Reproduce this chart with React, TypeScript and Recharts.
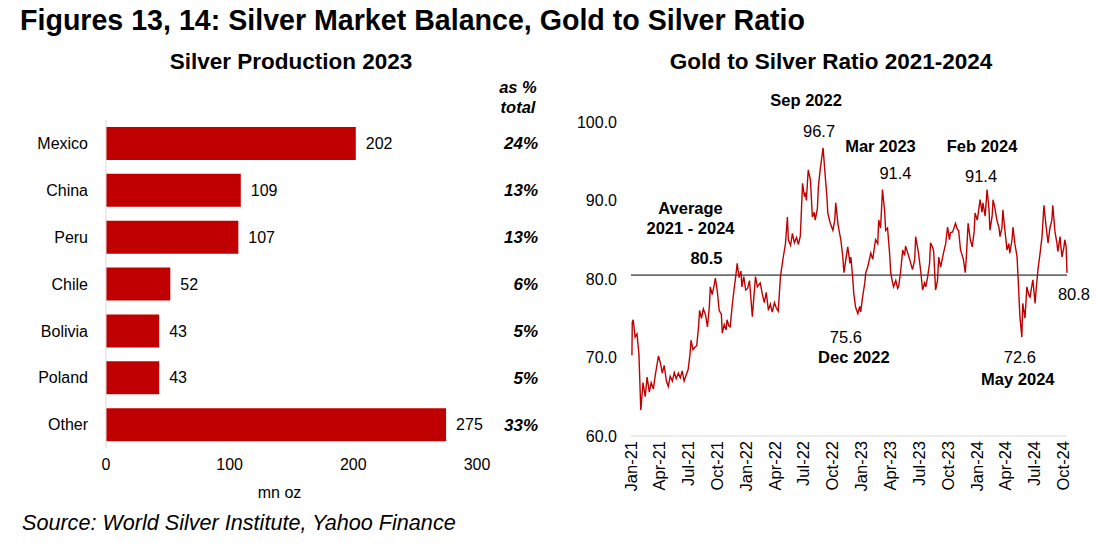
import {
  BarChart,
  Bar,
  XAxis,
  YAxis,
  LabelList,
  LineChart,
  Line,
  ReferenceLine,
  ReferenceDot,
} from 'recharts'

const FONT = '"Liberation Sans", Arial, Helvetica, sans-serif'
const RED = '#c00000'

// Figure 13: silver production 2023 (mn oz)
const countries = ['Mexico', 'China', 'Peru', 'Chile', 'Bolivia', 'Poland', 'Other']
const production = [202, 109, 107, 52, 43, 43, 275]
const shareOfTotal = ['24%', '13%', '13%', '6%', '5%', '5%', '33%']
const productionTicks = [0, 100, 200, 300]

// Figure 14: gold to silver ratio
const ratioTicks = [60, 70, 80, 90, 100]
const quarterStarts = [
  '2021-01-01', '2021-04-01', '2021-07-01', '2021-10-01',
  '2022-01-01', '2022-04-01', '2022-07-01', '2022-10-01',
  '2023-01-01', '2023-04-01', '2023-07-01', '2023-10-01',
  '2024-01-01', '2024-04-01', '2024-07-01', '2024-10-01',
]
const averageRatio = 80.5
const ratioSeries: [string, number][] = [
  ['2021-01-04', 70.3], ['2021-01-05', 74.5], ['2021-01-08', 74.8], ['2021-01-14', 72.6],
  ['2021-01-20', 73.0], ['2021-01-26', 70.5], ['2021-02-01', 63.3], ['2021-02-08', 66.8],
  ['2021-02-15', 65.0], ['2021-02-21', 67.5], ['2021-02-28', 65.6], ['2021-03-06', 66.8],
  ['2021-03-13', 66.0], ['2021-03-19', 67.8], ['2021-03-29', 70.2], ['2021-04-04', 69.3],
  ['2021-04-10', 68.0], ['2021-04-16', 69.0], ['2021-04-23', 67.0], ['2021-04-29', 66.3],
  ['2021-05-05', 67.6], ['2021-05-12', 67.0], ['2021-05-18', 68.1], ['2021-05-24', 67.3],
  ['2021-05-31', 68.0], ['2021-06-06', 67.4], ['2021-06-12', 68.3], ['2021-06-18', 67.0],
  ['2021-06-25', 67.8], ['2021-07-01', 68.5], ['2021-07-07', 70.5], ['2021-07-10', 72.2],
  ['2021-07-16', 71.0], ['2021-07-22', 71.3], ['2021-07-28', 71.5], ['2021-08-03', 74.0],
  ['2021-08-06', 76.0], ['2021-08-12', 75.0], ['2021-08-18', 76.2], ['2021-08-25', 75.4],
  ['2021-08-31', 73.9], ['2021-09-06', 76.5], ['2021-09-09', 79.0], ['2021-09-15', 78.0],
  ['2021-09-22', 79.4], ['2021-09-25', 80.1], ['2021-10-01', 78.5], ['2021-10-07', 76.0],
  ['2021-10-14', 75.5], ['2021-10-17', 73.1], ['2021-10-23', 74.2], ['2021-10-29', 73.5],
  ['2021-11-01', 74.8], ['2021-11-07', 74.0], ['2021-11-11', 73.9], ['2021-11-17', 76.5],
  ['2021-11-23', 78.6], ['2021-11-29', 80.5], ['2021-12-03', 82.0], ['2021-12-09', 80.2],
  ['2021-12-15', 81.0], ['2021-12-18', 79.0], ['2021-12-24', 80.3], ['2021-12-30', 78.6],
  ['2022-01-05', 78.8], ['2022-01-11', 79.8], ['2022-01-20', 75.2], ['2022-01-30', 80.3],
  ['2022-02-05', 79.0], ['2022-02-14', 79.5], ['2022-02-21', 78.0], ['2022-02-27', 77.0],
  ['2022-03-05', 78.3], ['2022-03-12', 76.0], ['2022-03-18', 76.8], ['2022-03-24', 75.8],
  ['2022-03-31', 77.0], ['2022-04-06', 76.3], ['2022-04-12', 75.9], ['2022-04-19', 80.3],
  ['2022-04-25', 82.0], ['2022-04-28', 82.8], ['2022-05-05', 84.5], ['2022-05-11', 87.9],
  ['2022-05-14', 85.0], ['2022-05-21', 84.3], ['2022-05-27', 85.8], ['2022-06-02', 84.6],
  ['2022-06-09', 85.3], ['2022-06-15', 84.4], ['2022-06-21', 85.5], ['2022-06-28', 92.2],
  ['2022-07-04', 90.5], ['2022-07-07', 91.0], ['2022-07-10', 90.0], ['2022-07-16', 93.9],
  ['2022-07-23', 92.6], ['2022-07-29', 87.9], ['2022-08-04', 88.5], ['2022-08-07', 87.5],
  ['2022-08-14', 89.0], ['2022-08-17', 91.7], ['2022-08-23', 94.0], ['2022-09-01', 96.7],
  ['2022-09-07', 93.5], ['2022-09-13', 90.5], ['2022-09-16', 88.4], ['2022-09-23', 87.2],
  ['2022-10-02', 86.2], ['2022-10-08', 87.5], ['2022-10-11', 89.7], ['2022-10-18', 87.0],
  ['2022-10-27', 85.0], ['2022-11-02', 83.0], ['2022-11-06', 80.8], ['2022-11-12', 82.5],
  ['2022-11-18', 84.1], ['2022-11-25', 82.0], ['2022-11-28', 82.8], ['2022-12-04', 80.0],
  ['2022-12-07', 78.2], ['2022-12-13', 76.4], ['2022-12-20', 75.6], ['2022-12-26', 76.5],
  ['2022-12-29', 75.8], ['2023-01-04', 77.7], ['2023-01-11', 79.5], ['2023-01-14', 80.8],
  ['2023-01-20', 81.5], ['2023-01-30', 83.3], ['2023-02-05', 82.5], ['2023-02-14', 85.0],
  ['2023-02-21', 84.5], ['2023-02-24', 87.5], ['2023-03-02', 86.5], ['2023-03-08', 91.4],
  ['2023-03-15', 88.5], ['2023-03-18', 86.2], ['2023-03-24', 86.5], ['2023-03-31', 83.0],
  ['2023-04-03', 80.8], ['2023-04-09', 79.5], ['2023-04-12', 79.0], ['2023-04-19', 79.8],
  ['2023-04-25', 78.8], ['2023-04-28', 79.0], ['2023-05-04', 80.8], ['2023-05-11', 83.7],
  ['2023-05-17', 83.0], ['2023-05-20', 84.2], ['2023-05-27', 83.3], ['2023-06-02', 82.5],
  ['2023-06-11', 81.2], ['2023-06-18', 82.5], ['2023-06-21', 85.4], ['2023-06-27', 84.0],
  ['2023-06-30', 83.3], ['2023-07-07', 81.0], ['2023-07-13', 78.6], ['2023-07-19', 79.5],
  ['2023-07-23', 79.0], ['2023-07-29', 80.3], ['2023-08-04', 82.0], ['2023-08-07', 84.6],
  ['2023-08-14', 84.0], ['2023-08-17', 83.5], ['2023-08-23', 78.6], ['2023-08-29', 79.8],
  ['2023-09-02', 82.8], ['2023-09-08', 81.5], ['2023-09-17', 83.3], ['2023-09-24', 84.5],
  ['2023-09-30', 86.6], ['2023-10-06', 85.0], ['2023-10-09', 85.9], ['2023-10-16', 86.0],
  ['2023-10-25', 87.1], ['2023-10-31', 86.3], ['2023-11-04', 86.2], ['2023-11-10', 83.7],
  ['2023-11-19', 82.5], ['2023-11-25', 80.8], ['2023-11-28', 82.5], ['2023-12-04', 87.1],
  ['2023-12-11', 85.0], ['2023-12-17', 84.1], ['2023-12-23', 86.0], ['2023-12-26', 88.4],
  ['2024-01-02', 87.5], ['2024-01-11', 90.1], ['2024-01-17', 88.5], ['2024-01-20', 89.7],
  ['2024-01-27', 88.0], ['2024-02-02', 91.4], ['2024-02-08', 89.0], ['2024-02-11', 86.2],
  ['2024-02-18', 88.0], ['2024-02-21', 90.1], ['2024-02-27', 89.0], ['2024-03-04', 87.5],
  ['2024-03-11', 86.5], ['2024-03-14', 85.4], ['2024-03-20', 86.5], ['2024-03-23', 88.8],
  ['2024-03-30', 86.0], ['2024-04-05', 83.7], ['2024-04-11', 84.5], ['2024-04-14', 83.3],
  ['2024-04-21', 85.0], ['2024-04-24', 86.6], ['2024-04-30', 84.5], ['2024-05-07', 82.8],
  ['2024-05-10', 80.3], ['2024-05-16', 75.2], ['2024-05-22', 72.6], ['2024-05-25', 76.9],
  ['2024-06-01', 75.0], ['2024-06-07', 79.0], ['2024-06-13', 78.0], ['2024-06-17', 77.7],
  ['2024-06-23', 79.2], ['2024-06-26', 79.9], ['2024-07-03', 76.9], ['2024-07-06', 78.5],
  ['2024-07-12', 81.2], ['2024-07-18', 83.0], ['2024-07-25', 85.4], ['2024-07-31', 89.4],
  ['2024-08-06', 87.0], ['2024-08-13', 84.6], ['2024-08-19', 86.5], ['2024-08-25', 87.5],
  ['2024-08-28', 89.4], ['2024-09-04', 86.0], ['2024-09-10', 84.6], ['2024-09-13', 83.5],
  ['2024-09-20', 85.4], ['2024-09-23', 84.0], ['2024-09-26', 82.8], ['2024-10-02', 84.0],
  ['2024-10-05', 85.0], ['2024-10-09', 84.2], ['2024-10-12', 80.8],
]

const MONTHS = ['Jan', 'Feb', 'Mar', 'Apr', 'May', 'Jun', 'Jul', 'Aug', 'Sep', 'Oct', 'Nov', 'Dec']

const barData = countries.map((country, i) => ({ country, value: production[i] }))
const lineData = ratioSeries.map(([d, v]) => ({ t: Date.parse(d), ratio: v }))
const quarterTicks = quarterStarts.map((d) => Date.parse(d))
const ts = (d: string) => Date.parse(d)

const tickStyle = { fontSize: 16, fill: '#000', fontFamily: FONT }

function ShareTick(props: any) {
  const { x, y, payload } = props
  const idx = countries.indexOf(payload.value)
  return (
    <text x={x + 61} y={y} dy="0.35em" textAnchor="end" fontSize={17} fontWeight={700}
      fontStyle="italic" fill="#000" fontFamily={FONT}>
      {shareOfTotal[idx]}
    </text>
  )
}

function DateTick(props: any) {
  const { x, y, payload } = props
  const d = new Date(payload.value)
  const label = `${MONTHS[d.getUTCMonth()]}-${String(d.getUTCFullYear()).slice(2)}`
  return (
    <text x={x} y={y} dy="0.35em" textAnchor="end" transform={`rotate(-90, ${x}, ${y})`}
      fontSize={16.5} fill="#000" fontFamily={FONT}>
      {label}
    </text>
  )
}

type NoteLine = { text: string; dx: number; dy: number; bold?: boolean }

// label renderer for ReferenceDot annotations, offsets relative to the dot
const note = (lines: NoteLine[]) => (props: any) => {
  const vb = props.viewBox || {}
  const cx = (vb.x ?? 0) + (vb.width ?? 0) / 2
  const cy = (vb.y ?? 0) + (vb.height ?? 0) / 2
  return (
    <g>
      {lines.map((l, i) => (
        <text key={i} x={cx + l.dx} y={cy + l.dy} dy="0.35em" textAnchor="middle"
          fontSize={16.5} fontWeight={l.bold ? 700 : 400} fill="#000" fontFamily={FONT}>
          {l.text}
        </text>
      ))}
    </g>
  )
}

const abs = (style: React.CSSProperties): React.CSSProperties => ({
  position: 'absolute',
  fontFamily: FONT,
  color: '#000',
  lineHeight: 1,
  whiteSpace: 'pre',
  ...style,
})

export default function App() {
  return (
    <div style={{ position: 'absolute', left: 0, top: 0, width: 1098, height: 549, background: '#fff', overflow: 'hidden' }}>
      <div style={abs({ left: 20, top: 6, fontSize: 28.6, fontWeight: 700 })}>
        Figures 13, 14: Silver Market Balance, Gold to Silver Ratio
      </div>
      <div style={abs({ left: 91, top: 51, width: 400, textAlign: 'center', fontSize: 22.5, fontWeight: 700 })}>
        Silver Production 2023
      </div>
      <div style={abs({ left: 631, top: 51, width: 400, textAlign: 'center', fontSize: 22.5, fontWeight: 700 })}>
        Gold to Silver Ratio 2021-2024
      </div>
      <div style={abs({ left: 478, top: 79, width: 80, textAlign: 'center', fontSize: 16.5, fontWeight: 700, fontStyle: 'italic' })}>
        as %
      </div>
      <div style={abs({ left: 478, top: 99, width: 80, textAlign: 'center', fontSize: 16.5, fontWeight: 700, fontStyle: 'italic' })}>
        total
      </div>

      <div style={{ position: 'absolute', left: 0, top: 100 }}>
        <BarChart width={560} height={420} data={barData} layout="vertical"
          margin={{ top: 20, right: 13, left: 0, bottom: 22 }}>
          <XAxis type="number" domain={[0, 300]} ticks={productionTicks} axisLine={false}
            tickLine={false} tickSize={0} tickMargin={11} tick={tickStyle} height={50}
            label={{ value: 'mn oz', position: 'insideBottom', offset: 0, dx: -12, fontSize: 16, fill: '#000', fontFamily: FONT }} />
          <YAxis yAxisId="left" type="category" dataKey="country" width={106}
            axisLine={{ stroke: '#d9d9d9' }} tickLine={false} tickSize={0} tickMargin={18}
            tick={tickStyle} />
          <YAxis yAxisId="pct" type="category" dataKey="country" orientation="right" width={70}
            axisLine={false} tickLine={false} tickSize={0} tickMargin={0} tick={<ShareTick />} />
          <Bar yAxisId="left" dataKey="value" fill={RED} barSize={33} isAnimationActive={false}>
            <LabelList dataKey="value" position="right" offset={10} fontSize={16} fill="#000" fontFamily={FONT} />
          </Bar>
        </BarChart>
      </div>

      <div style={{ position: 'absolute', left: 540, top: 80 }}>
        <LineChart width={558} height={421} data={lineData}
          margin={{ top: 42, right: 31, left: 0, bottom: 5 }}>
          <XAxis dataKey="t" type="number" scale="time" domain={[ts('2021-01-01'), 'dataMax']}
            ticks={quarterTicks} interval={0} axisLine={{ stroke: '#d9d9d9' }} tickLine={false}
            tickSize={0} tickMargin={5} height={60} tick={<DateTick />} />
          <YAxis domain={[60, 100]} ticks={ratioTicks} tickFormatter={(v: number) => v.toFixed(1)}
            width={91} axisLine={false} tickLine={false} tickSize={0} tickMargin={14} tick={tickStyle} />
          <ReferenceLine y={averageRatio} stroke="#000" strokeWidth={1} />
          <Line type="linear" dataKey="ratio" stroke={RED} strokeWidth={1.4} dot={false}
            isAnimationActive={false} />
          <ReferenceDot x={ts('2021-08-28')} y={averageRatio} r={0} stroke="none"
            label={{ content: note([
              { text: 'Average', dx: -16, dy: -67, bold: true },
              { text: '2021  - 2024', dx: -16, dy: -47, bold: true },
              { text: '80.5', dx: 0, dy: -17, bold: true },
            ]) }} />
          <ReferenceDot x={ts('2022-09-01')} y={96.7} r={0} stroke="none"
            label={{ content: note([
              { text: 'Sep 2022', dx: -17, dy: -48, bold: true },
              { text: '96.7', dx: -4, dy: -17 },
            ]) }} />
          <ReferenceDot x={ts('2023-03-08')} y={91.4} r={0} stroke="none"
            label={{ content: note([
              { text: 'Mar 2023', dx: -2, dy: -43, bold: true },
              { text: '91.4', dx: 13, dy: -16 },
            ]) }} />
          <ReferenceDot x={ts('2024-02-02')} y={91.4} r={0} stroke="none"
            label={{ content: note([
              { text: 'Feb 2024', dx: -5, dy: -43, bold: true },
              { text: '91.4', dx: -6, dy: -13 },
            ]) }} />
          <ReferenceDot x={ts('2022-12-20')} y={75.6} r={0} stroke="none"
            label={{ content: note([
              { text: '75.6', dx: -12, dy: 24 },
              { text: 'Dec 2022', dx: -4, dy: 44, bold: true },
            ]) }} />
          <ReferenceDot x={ts('2024-05-22')} y={72.6} r={0} stroke="none"
            label={{ content: note([
              { text: '72.6', dx: -2, dy: 20 },
              { text: 'May 2024', dx: -4, dy: 42, bold: true },
            ]) }} />
          <ReferenceDot x={ts('2024-10-12')} y={80.8} r={0} stroke="none" ifOverflow="visible"
            label={{ content: note([{ text: '80.8', dx: 7, dy: 22 }]) }} />
        </LineChart>
      </div>

      <div style={abs({ left: 22, top: 512, fontSize: 21.6, fontStyle: 'italic' })}>
        Source: World Silver Institute, Yahoo Finance
      </div>
    </div>
  )
}
